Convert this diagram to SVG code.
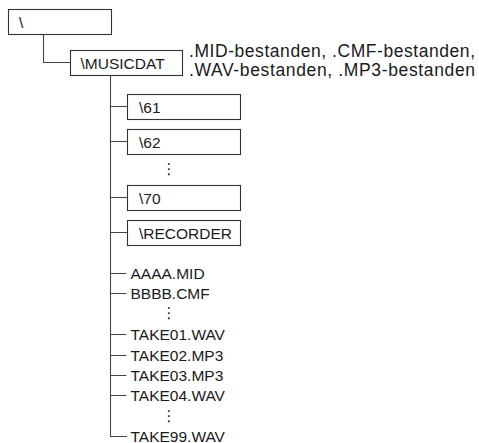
<svg xmlns="http://www.w3.org/2000/svg" width="479" height="443" viewBox="0 0 479 443">
<style>
.box{fill:#fff;stroke:#333;stroke-width:1.1}
.ln{fill:none;stroke:#444;stroke-width:1.1}
.t{font-family:"Liberation Sans",Arial,sans-serif;font-size:15.5px;fill:#1a1a1a}
.lbl{font-family:"Liberation Sans",Arial,sans-serif;font-size:17.5px;fill:#1a1a1a}
.dots{font-family:"DejaVu Sans",sans-serif;font-size:15px;fill:#1a1a1a;text-anchor:middle}
</style>
<rect width="479" height="443" fill="#fff"/>
<g id="connectors">
<path class="ln" d="M43.5 34.5 V62.5 H70.5"/>
<path class="ln" d="M110.5 75.5 V436.5 H127"/>
<path class="ln" d="M110.5 106.5 H127.5 M110.5 141.5 H127.5 M110.5 197.5 H127.5 M110.5 232.5 H127.5"/>
<path class="ln" d="M110.5 273.5 H126.5 M110.5 293.5 H126.5 M110.5 334.5 H126.5 M110.5 355.5 H126.5 M110.5 375.5 H126.5 M110.5 395.5 H126.5"/>
</g>
<g id="root"><rect class="box" x="8.5" y="9.5" width="103" height="25"/><text class="t" x="19" y="27.5">\</text></g>
<g id="musicdat"><rect class="box" x="70.5" y="50.5" width="112" height="25"/><text class="t" x="80.5" y="68.5">\MUSICDAT</text></g>
<g id="musicdat-label"><text class="lbl" x="189" y="56.5" textLength="286" lengthAdjust="spacing">.MID-bestanden, .CMF-bestanden,</text><text class="lbl" x="189" y="75.5" textLength="286" lengthAdjust="spacing">.WAV-bestanden, .MP3-bestanden</text></g>
<g id="d61"><rect class="box" x="127.5" y="94.5" width="113" height="25"/><text class="t" x="139" y="112.5">\61</text></g>
<g id="d62"><rect class="box" x="127.5" y="129.5" width="113" height="25"/><text class="t" x="139" y="147.5">\62</text></g>
<g id="dots1"><text class="dots" x="169" y="174">⋮</text></g>
<g id="d70"><rect class="box" x="127.5" y="185.5" width="113" height="25"/><text class="t" x="139" y="203.5">\70</text></g>
<g id="recorder"><rect class="box" x="127.5" y="220.5" width="113" height="25"/><text class="t" x="139" y="238.5">\RECORDER</text></g>
<g id="f-aaaa"><text class="t" x="130.5" y="279">AAAA.MID</text></g>
<g id="f-bbbb"><text class="t" x="130.5" y="299">BBBB.CMF</text></g>
<g id="dots2"><text class="dots" x="169" y="318">⋮</text></g>
<g id="f-take01"><text class="t" x="130.5" y="340">TAKE01.WAV</text></g>
<g id="f-take02"><text class="t" x="130.5" y="361">TAKE02.MP3</text></g>
<g id="f-take03"><text class="t" x="130.5" y="381">TAKE03.MP3</text></g>
<g id="f-take04"><text class="t" x="130.5" y="401">TAKE04.WAV</text></g>
<g id="dots3"><text class="dots" x="169" y="421">⋮</text></g>
<g id="f-take99"><text class="t" x="130.5" y="441.5">TAKE99.WAV</text></g>
</svg>
